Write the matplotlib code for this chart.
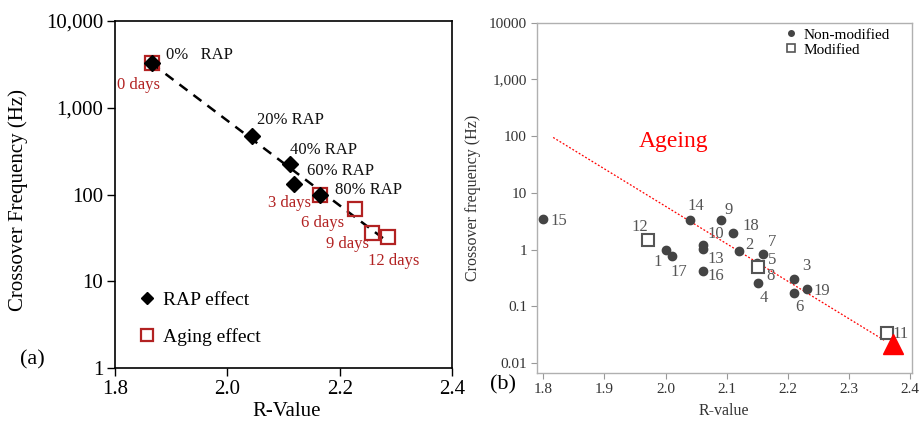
import numpy as np
import matplotlib
matplotlib.use("Agg")
import matplotlib.pyplot as plt
from matplotlib.lines import Line2D
from matplotlib.ticker import FixedLocator, FixedFormatter, NullLocator

plt.rcParams['font.family'] = ['Liberation Serif', 'DejaVu Serif']

# ---- panel (a) data ----
rap_labels = ["0%   RAP", "20% RAP", "40% RAP", "60% RAP", "80% RAP"]
rap_r = [1.865, 2.043, 2.112, 2.118, 2.165]
rap_f = [3250, 472, 223, 131, 100]
rap_lab_r = [1.891, 2.052, 2.112, 2.141, 2.192]
rap_lab_f = [4055, 723, 326, 188, 113]

age_labels = ["0 days", "3 days", "6 days", "9 days", "12 days"]
age_r = [1.865, 2.165, 2.227, 2.258, 2.286]
age_f = [3250, 100, 68, 36, 32]
age_lab_r = [1.842, 2.110, 2.169, 2.214, 2.296]
age_lab_f = [1828, 80, 47, 26.7, 17.1]

trend_r = [1.865, 2.281]
trend_f = [3250, 30]

# ---- panel (b) data ----
nm_ids = ["15", "1", "17", "14", "9", "10", "13", "16", "18", "2", "7", "5", "4", "3", "6", "19"]
nm_r = [1.800, 2.000, 2.010, 2.040, 2.091, 2.061, 2.061, 2.061, 2.110, 2.121, 2.160, 2.150, 2.151, 2.211, 2.211, 2.231]
nm_f = [3.5, 1.0, 0.77, 3.4, 3.4, 1.2, 1.05, 0.42, 1.97, 0.95, 0.85, 0.58, 0.26, 0.31, 0.17, 0.205]

mod_ids = ["12", "8", "11"]
mod_r = [1.971, 2.151, 2.362]
mod_f = [1.5, 0.50, 0.034]

lab_ids = ["15", "12", "1", "17", "14", "9", "10", "18", "13", "16", "2", "7", "5", "8", "4", "3", "19", "6", "11"]
lab_r = [1.825, 1.958, 1.987, 2.022, 2.050, 2.104, 2.082, 2.140, 2.082, 2.082, 2.138, 2.175, 2.175, 2.172, 2.161, 2.231, 2.256, 2.220, 2.385]
lab_f = [3.2, 2.5, 0.62, 0.40, 5.9, 5.1, 1.9, 2.6, 0.69, 0.35, 1.19, 1.37, 0.67, 0.34, 0.14, 0.515, 0.184, 0.097, 0.033]

ageing_r = [1.816, 2.359]
ageing_f = [95, 0.025]
arrow_r = [2.373]
arrow_f = [0.022]

red = '#b22222'
gray = '#444444'

fig = plt.figure(figsize=(9.21, 4.32), dpi=100)

# ================= (a) =================
ax1 = fig.add_axes([0.1249, 0.1481, 0.3659, 0.8033])
ax1.plot(trend_r, trend_f, color='black', ls=(0, (4, 3)), lw=1.8, zorder=2)
ax1.plot(age_r, age_f, ls='none', marker='s', ms=10, mfc='none', mec=red, mew=1.6, zorder=3)
ax1.plot(rap_r, rap_f, ls='none', marker='D', ms=8, color='black', zorder=4)

for t, x, y in zip(rap_labels, rap_lab_r, rap_lab_f):
    ax1.text(x, y, t, ha='left', va='center', fontsize=12, color='#111111')
for t, x, y in zip(age_labels, age_lab_r, age_lab_f):
    ax1.text(x, y, t, ha='center', va='center', fontsize=12, color=red)

ax1.set_yscale('log')
ax1.set_xlim(1.8, 2.4)
ax1.set_ylim(1, 10000)
ax1.yaxis.set_major_locator(FixedLocator([1, 10, 100, 1000, 10000]))
ax1.yaxis.set_major_formatter(FixedFormatter(["1", "10", "100", "1,000", "10,000"]))
ax1.yaxis.set_minor_locator(NullLocator())
ax1.set_xticks([1.8, 2.0, 2.2, 2.4])
ax1.set_xticklabels(["1.8", "2.0", "2.2", "2.4"])
ax1.tick_params(direction='out', length=5.5, width=1, labelsize=15, pad=3)
for s in ax1.spines.values():
    s.set_linewidth(1.2)
ax1.set_ylabel("Crossover Frequency (Hz)", fontsize=15)
ax1.yaxis.set_label_coords(-0.258, 0.484)
ax1.set_xlabel("R-Value", fontsize=15)
ax1.xaxis.set_label_coords(0.51, -0.098)

h1 = [Line2D([], [], ls='none', marker='D', ms=6, color='black'),
      Line2D([], [], ls='none', marker='s', ms=8, mfc='none', mec=red, mew=1.6)]
ax1.legend(h1, ["RAP effect", "Aging effect"], loc='center left', bbox_to_anchor=(0.065, 0.143),
           frameon=False, fontsize=14, handlelength=1.0, handletextpad=0.35,
           labelspacing=1.0, borderpad=0, borderaxespad=0)

# ================= (b) =================
ax2 = fig.add_axes([0.5834, 0.1373, 0.4065, 0.8102])
ax2.plot(ageing_r, ageing_f, color='red', ls=(0, (1.5, 1.5)), lw=0.9, zorder=1)
ax2.plot(arrow_r, arrow_f, ls='none', marker='^', ms=14, color='red', zorder=5)
ax2.plot(nm_r, nm_f, ls='none', marker='o', ms=6, color=gray, zorder=3)
ax2.plot(mod_r, mod_f, ls='none', marker='s', ms=8.5, mfc='white', mec='#555555', mew=1.5, zorder=4)
for t, x, y in zip(lab_ids, lab_r, lab_f):
    ax2.text(x, y, t, ha='center', va='center', fontsize=12, color='#555555')
ax2.text(2.013, 80, "Ageing", ha='center', va='center', fontsize=17, color='red')

ax2.set_yscale('log')
ax2.set_xlim(1.79, 2.403)
ax2.set_ylim(10 ** -2.166, 10000)
ax2.yaxis.set_major_locator(FixedLocator([0.01, 0.1, 1, 10, 100, 1000, 10000]))
ax2.yaxis.set_major_formatter(FixedFormatter(["0.01", "0.1", "1", "10", "100", "1,000", "10000"]))
ax2.yaxis.set_minor_locator(NullLocator())
ax2.set_xticks([1.8, 1.9, 2.0, 2.1, 2.2, 2.3, 2.4])
ax2.set_xticklabels(["1.8", "1.9", "2.0", "2.1", "2.2", "2.3", "2.4"])
ax2.tick_params(direction='out', length=4.5, width=0.8, color='#999999',
                labelsize=11, labelcolor='#333333', pad=3)
for s in ax2.spines.values():
    s.set_color('#b0b0b0')
    s.set_linewidth(1.0)
ax2.set_ylabel("Crossover frequency (Hz)", fontsize=11.5, color='#333333')
ax2.yaxis.set_label_coords(-0.151, 0.5)
ax2.set_xlabel("R-value", fontsize=11.5, color='#333333')
ax2.xaxis.set_label_coords(0.497, -0.086)

h2 = [Line2D([], [], ls='none', marker='o', ms=4, color=gray),
      Line2D([], [], ls='none', marker='s', ms=6, mfc='white', mec='#555555', mew=1.2)]
ax2.legend(h2, ["Non-modified", "Modified"], loc='upper left', bbox_to_anchor=(0.657, 0.985),
           frameon=False, fontsize=11, handlelength=1.0, handletextpad=0.35,
           labelspacing=0.1, borderpad=0, borderaxespad=0)

fig.text(0.0217, 0.1667, "(a)", fontsize=16, ha='left', va='center')
fig.text(0.532, 0.109, "(b)", fontsize=16, ha='left', va='center')

fig.savefig("out.png", dpi=100)
